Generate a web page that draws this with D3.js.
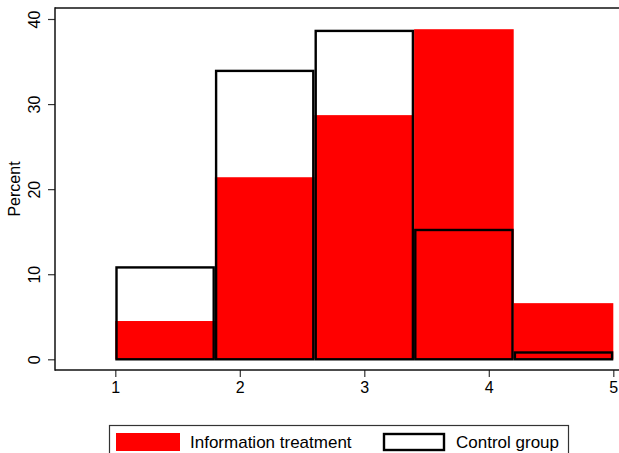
<!DOCTYPE html>
<html>
<head>
<meta charset="utf-8">
<script src="https://cdn.jsdelivr.net/npm/d3@7"></script>
<style>
  html, body { margin: 0; padding: 0; background: #fff; }
  svg { display: block; font-family: "Liberation Sans", Arial, sans-serif; }
</style>
</head>
<body>
<svg id="chart" width="619" height="453"></svg>
<script>
// Data
const binStarts = [1.0, 1.8, 2.6, 3.4, 4.2];
const binWidth = 0.8;
const treatmentPct = [4.5, 21.4, 28.7, 38.8, 6.6];
const controlPct = [10.8, 33.9, 38.6, 15.2, 0.8];
const xTicks = [1, 2, 3, 4, 5];
const yTicks = [0, 10, 20, 30, 40];
const seriesNames = ["Information treatment", "Control group"];

(function () {
const svg = d3.select("#chart");
const pLeft = 55, pTop = 8, pBottom = 370, pRight = 640;

const x = d3.scaleLinear().domain([1, 5]).range([115.3, 613.3]);
const y = d3.scaleLinear().domain([0, 40]).range([359.3, 19]);

// treatment bars (red, no outline)
svg.append("g").selectAll("rect")
  .data(binStarts.map((s, i) => ({s, v: treatmentPct[i]})))
  .join("rect")
  .attr("x", d => x(d.s))
  .attr("width", d => x(d.s + binWidth) - x(d.s))
  .attr("y", d => y(d.v))
  .attr("height", d => y(0) - y(d.v))
  .attr("fill", "#ff0000");

// control bars (outline only)
svg.append("g").selectAll("rect")
  .data(binStarts.map((s, i) => ({s, v: controlPct[i]})))
  .join("rect")
  .attr("x", d => x(d.s) + 1.2)
  .attr("width", d => x(d.s + binWidth) - x(d.s) - 2.4)
  .attr("y", d => y(d.v))
  .attr("height", d => y(0) - y(d.v))
  .attr("fill", "none")
  .attr("stroke", "#000")
  .attr("stroke-width", 2.4);

// frame lines
svg.append("line").attr("x1", pLeft).attr("x2", pRight).attr("y1", pTop).attr("y2", pTop)
  .attr("stroke", "#111").attr("stroke-width", 1.5);

// axes
const yAxis = d3.axisLeft(y).tickValues(yTicks).tickFormat(d3.format("d")).tickSize(7).tickPadding(8);
const gy = svg.append("g").attr("transform", `translate(${pLeft},0)`).call(yAxis);
gy.select(".domain").remove();
gy.selectAll(".tick line").attr("stroke", "#333").attr("stroke-width", 1.2);
gy.selectAll(".tick text")
  .attr("font-size", 16).attr("fill", "#000")
  .attr("text-anchor", "middle")
  .attr("x", null).attr("dy", null)
  .attr("transform", "translate(-15,0) rotate(-90)");

const xAxis = d3.axisBottom(x).tickValues(xTicks).tickFormat(d3.format("d")).tickSize(7).tickPadding(5);
const gx = svg.append("g").attr("transform", `translate(0,${pBottom})`).call(xAxis);
gx.select(".domain").remove();
gx.selectAll(".tick line").attr("stroke", "#333").attr("stroke-width", 1.2);
gx.selectAll(".tick text").attr("font-size", 16).attr("fill", "#000").attr("dy", "0.71em");

svg.append("line").attr("x1", pLeft).attr("x2", pLeft).attr("y1", pTop - 0.75).attr("y2", pBottom + 0.75)
  .attr("stroke", "#111").attr("stroke-width", 1.5);
svg.append("line").attr("x1", pLeft).attr("x2", pRight).attr("y1", pBottom).attr("y2", pBottom)
  .attr("stroke", "#111").attr("stroke-width", 1.5);

svg.append("text").attr("transform", `translate(20,${(pTop + pBottom) / 2}) rotate(-90)`)
  .attr("text-anchor", "middle").attr("font-size", 16).text("Percent");

// legend
const lg = svg.append("g");
lg.append("rect").attr("x", 109.5).attr("y", 425.5).attr("width", 459).attr("height", 40)
  .attr("fill", "#fff").attr("stroke", "#333").attr("stroke-width", 1.2);
lg.append("rect").attr("x", 116).attr("y", 433).attr("width", 64).attr("height", 18).attr("fill", "#ff0000");
lg.append("text").attr("x", 190).attr("y", 448).attr("font-size", 17).text(seriesNames[0]);
lg.append("rect").attr("x", 384).attr("y", 434).attr("width", 60).attr("height", 16)
  .attr("fill", "none").attr("stroke", "#000").attr("stroke-width", 2.4);
lg.append("text").attr("x", 456).attr("y", 448).attr("font-size", 17).text(seriesNames[1]);
})();
</script>
</body>
</html>
